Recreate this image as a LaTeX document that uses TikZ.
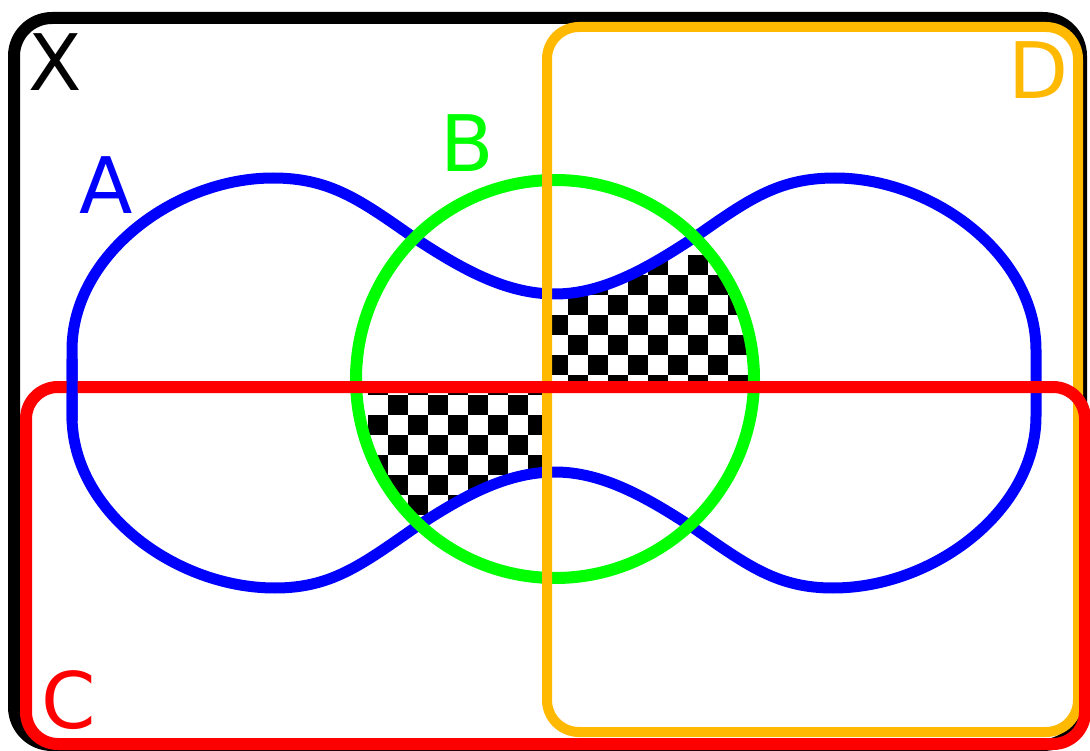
\documentclass[tikz,border=0pt]{standalone}
\usepackage{fontspec}
\setmainfont{DejaVu Sans}
\definecolor{setA}{RGB}{0,0,255}
\definecolor{setB}{RGB}{0,255,0}
\definecolor{setC}{RGB}{255,0,0}
\definecolor{setD}{RGB}{255,185,0}
\def\Apath{(555,294) .. controls (505,294) and (460,268) .. (413,237)
  .. controls (360,200) and (330,178) .. (273,178)
  .. controls (175,178) and (72,255) .. (72,350)
  -- (72,416)
  .. controls (72,511) and (175,588) .. (275,588)
  .. controls (330,588) and (360,566) .. (413,529)
  .. controls (460,498) and (505,472) .. (555,472)
  .. controls (603,472) and (648,498) .. (695,529)
  .. controls (748,566) and (778,588) .. (833,588)
  .. controls (933,588) and (1036,511) .. (1036,416)
  -- (1036,350)
  .. controls (1036,255) and (933,178) .. (835,178)
  .. controls (778,178) and (748,200) .. (695,237)
  .. controls (648,268) and (603,294) .. cycle}
\tikzset{
  setlabel/.style={inner sep=0pt, font=\fontsize{78}{78}\selectfont},
  blueline/.style={draw=setA, line width=11pt},
}
\begin{document}
\begin{tikzpicture}[x=1pt,y=-1pt]
\useasboundingbox (0,0) rectangle (1090,751);
\fill[white] (0,0) rectangle (1090,751);
% universe X
\draw[line width=12pt, rounded corners=38pt] (14,18) rectangle (1081,745);
% checkered regions
\begin{scope}
  \clip (547,0) rectangle (800,387) (300,387) rectangle (547,700);
  \clip (555,379) circle[radius=199pt];
  \clip \Apath;
  \foreach \i in {18,...,38} {
    \foreach \j in {12,...,25} {
      \pgfmathtruncatemacro\chkpar{mod(\i+\j,2)}
      \ifnum\chkpar=0
        \fill[black] ({8+20*\i},{15+20*\j}) rectangle ++(20,20);
      \fi
    }
  }
\end{scope}
% A
\draw[blueline] \Apath;
% B
\draw[setB, line width=12pt] (555,379) circle[radius=199pt];
% D
\draw[setD, line width=10pt, rounded corners=32pt] (547,27) rectangle (1078,732);
% C
\draw[setC, line width=12pt, rounded corners=32pt] (26,387) rectangle (1085,744);
% blue over red at the left crossing
\begin{scope}
  \clip (40,360) rectangle (110,420);
  \draw[blueline] \Apath;
\end{scope}
% labels
\node[setlabel] (labX) at (55,62) {X};
\node[setlabel, text=setA] (labA) at (106,185) {A};
\node[setlabel, text=setB] (labB) at (467,143) {B};
\node[setlabel, text=setC] (labC) at (69,700) {C};
\node[setlabel, text=setD] (labD) at (1039,70) {D};
\end{tikzpicture}
\end{document}
